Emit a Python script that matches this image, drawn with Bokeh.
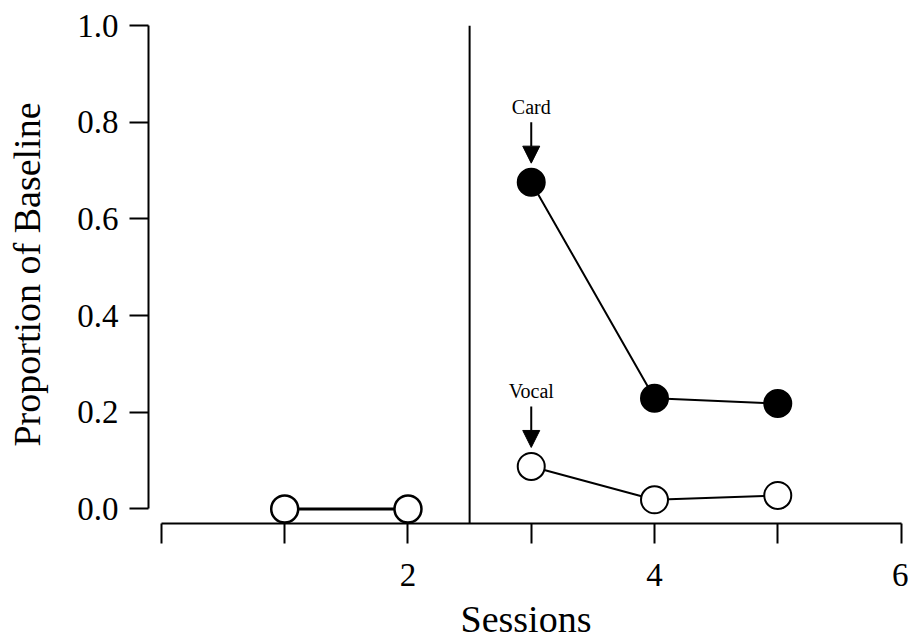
from bokeh.plotting import figure
from bokeh.models import Range1d, FixedTicker, Span, Arrow, NormalHead, PrintfTickFormatter
from bokeh.core.properties import value
from bokeh.embed import file_html
from bokeh.resources import INLINE

# ---- data ----
baseline_sessions = [1, 2]
baseline_values = [0.0, 0.0]
sessions = [3, 4, 5]
card = [0.676, 0.229, 0.218]
vocal = [0.088, 0.019, 0.028]
x_ticks = [0, 1, 2, 3, 4, 5, 6]
x_tick_labels = {0: "", 1: "", 2: "2", 3: "", 4: "4", 5: "", 6: "6"}
y_ticks = [0.0, 0.2, 0.4, 0.6, 0.8, 1.0]
phase_change = 2.5

FONT = "Liberation Serif"

p = figure(frame_width=755, frame_height=498,
           x_range=Range1d(-0.105, 6.02), y_range=Range1d(-0.03, 1.0),
           output_backend="svg", toolbar_location=None,
           min_border_left=148, min_border_top=25, min_border_right=5, min_border_bottom=10)
p.outline_line_color = None
p.grid.visible = False
p.background_fill_color = "white"

for ax in (p.xaxis[0], p.yaxis[0]):
    ax.axis_line_width = 2
    ax.major_tick_line_width = 2
    ax.major_tick_in = 0
    ax.minor_tick_line_color = None
    ax.major_label_text_font = FONT
    ax.major_label_text_font_size = "33px"
    ax.major_label_text_color = "black"
    ax.axis_label_text_font = FONT
    ax.axis_label_text_font_size = "38px"
    ax.axis_label_text_font_style = "normal"
    ax.axis_label_text_color = "black"
    ax.axis_line_color = "black"
    ax.major_tick_line_color = "black"

p.xaxis.ticker = FixedTicker(ticks=x_ticks)
p.xaxis.major_label_overrides = x_tick_labels
p.xaxis.bounds = (0, 6)
p.xaxis.major_tick_out = 20
p.xaxis.major_label_standoff = 20
p.xaxis.axis_label = "Sessions"
p.xaxis.axis_label_standoff = 9

p.yaxis.ticker = FixedTicker(ticks=y_ticks)
p.yaxis.formatter = PrintfTickFormatter(format="%.1f")
p.yaxis.bounds = (0, 1)
p.yaxis.major_tick_out = 19
p.yaxis.major_label_standoff = 11
p.yaxis.axis_label = "Proportion of Baseline"
p.yaxis.axis_label_standoff = 26

# phase change line
p.add_layout(Span(location=phase_change, dimension="height", line_color="black", line_width=2))

# baseline (both responses at zero, overlapping)
p.line(baseline_sessions, baseline_values, line_color="black", line_width=3)
p.scatter(baseline_sessions, baseline_values, size=27, marker="circle",
          fill_color="white", line_color="black", line_width=2.5)

# card
p.line(sessions, card, line_color="black", line_width=2)
p.scatter(sessions, card, size=27, marker="circle", fill_color="black", line_color="black", line_width=2)

# vocal
p.line(sessions, vocal, line_color="black", line_width=2)
p.scatter(sessions, vocal, size=27, marker="circle", fill_color="white", line_color="black", line_width=2)

# annotations (arrow + label above the first treatment point of each series)
px = 483.7  # pixels per y unit
for label, y0 in (("Card", card[0]), ("Vocal", vocal[0])):
    tip = y0 + 19 / px
    start = y0 + 60 / px
    p.add_layout(Arrow(end=NormalHead(size=17, fill_color="black", line_color="black", line_width=1),
                       x_start=sessions[0], y_start=start, x_end=sessions[0], y_end=tip,
                       line_color="black", line_width=2))
    p.text(x=[sessions[0]], y=[y0 + 75 / px], text=[label], text_font=value(FONT),
           text_font_size="20px", text_align="center", text_baseline="alphabetic", text_color="black")

open("out.html", "w").write(file_html(p, INLINE))
